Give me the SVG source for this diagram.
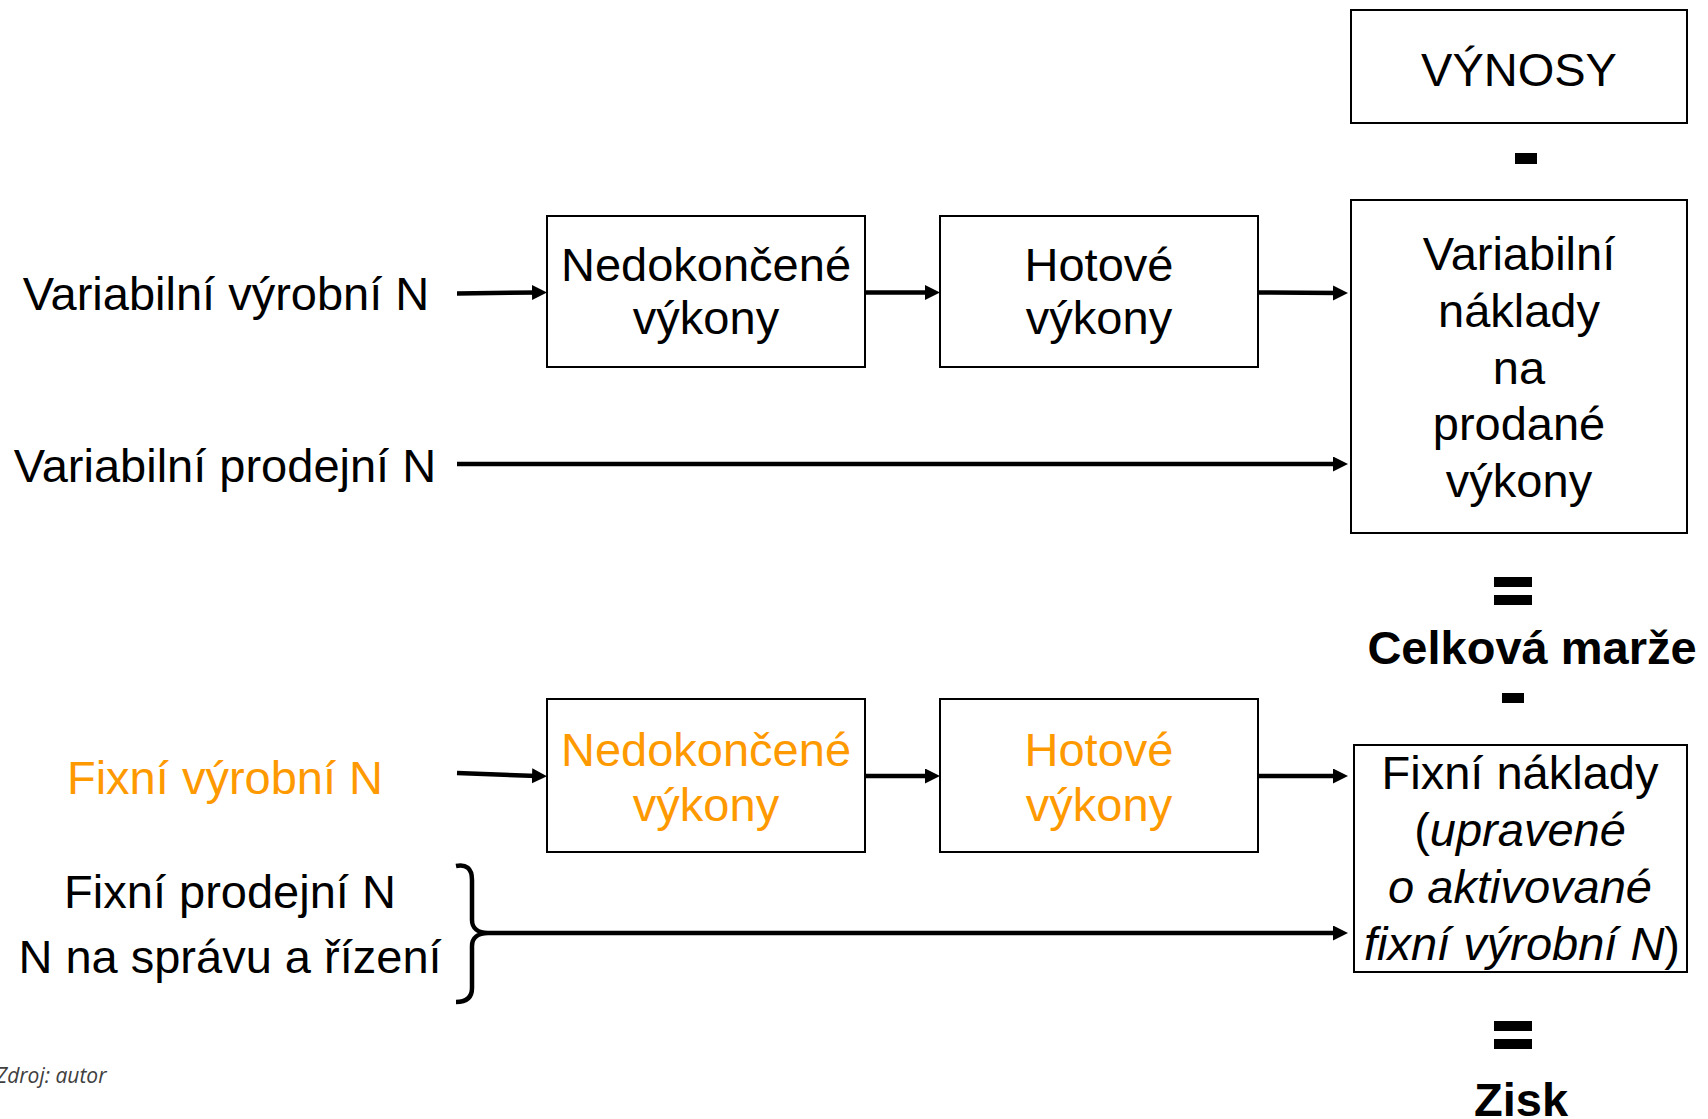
<svg xmlns="http://www.w3.org/2000/svg" width="1708" height="1119" viewBox="0 0 1708 1119">
  <style>
    .box { fill: #fff; stroke: #000; stroke-width: 2; }
    .t { font-family: "Liberation Sans", Arial, sans-serif; font-size: 47px; fill: #000; text-anchor: middle; }
    .b { font-weight: bold; }
    .o { fill: #FF9900; }
    .i { font-style: italic; }
    .conn { stroke: #000; stroke-width: 4.5; fill: none; marker-end: url(#arrow); }
    .op { fill: #000; }
    .src { font-family: "Open Sans", sans-serif; font-style: italic; font-size: 21px; fill: #404040; }
  </style>
  <defs>
    <marker id="arrow" markerUnits="userSpaceOnUse" markerWidth="16" markerHeight="16" refX="5" refY="7.5" orient="auto">
      <path d="M0,0 L15,7.5 L0,15 z" fill="#000"/>
    </marker>
  </defs>

  <!-- connectors -->
  <g id="connectors">
    <line class="conn" x1="457" y1="293.5" x2="537" y2="292.5"/>
    <line class="conn" x1="865" y1="292.5" x2="930" y2="292.5"/>
    <line class="conn" x1="1258" y1="292.5" x2="1338" y2="293"/>
    <line class="conn" x1="457" y1="464" x2="1338" y2="464"/>
    <line class="conn" x1="457" y1="773" x2="537" y2="776"/>
    <line class="conn" x1="865" y1="776" x2="930" y2="776"/>
    <line class="conn" x1="1258" y1="776" x2="1338" y2="776"/>
    <line class="conn" x1="488" y1="933" x2="1338" y2="933"/>
    <path id="brace" d="M456,866 C466,864 472,868 472,880 L472,920 C472,928 478,933 488,933 C478,933 472,938 472,946 L472,988 C472,998 466,1002 456,1002" fill="none" stroke="#000" stroke-width="4.5"/>
  </g>

  <!-- left-hand labels -->
  <g id="lbl-var-vyrobni"><text class="t" x="226" y="310">Variabilní výrobní N</text></g>
  <g id="lbl-var-prodejni"><text class="t" x="225" y="482">Variabilní prodejní N</text></g>
  <g id="lbl-fix-vyrobni"><text class="t o" x="225" y="794">Fixní výrobní N</text></g>
  <g id="lbl-fix-prodejni">
    <text class="t" x="230" y="908">Fixní prodejní N</text>
    <text class="t" x="230" y="973">N na správu a řízení</text>
  </g>

  <!-- variable cost chain -->
  <g id="ned-var">
    <rect class="box" x="547" y="216" width="318" height="151"/>
    <text class="t" x="706" y="281">Nedokončené</text>
    <text class="t" x="706" y="334">výkony</text>
  </g>
  <g id="hot-var">
    <rect class="box" x="940" y="216" width="318" height="151"/>
    <text class="t" x="1099" y="281">Hotové</text>
    <text class="t" x="1099" y="334">výkony</text>
  </g>

  <!-- fixed cost chain -->
  <g id="ned-fix">
    <rect class="box" x="547" y="699" width="318" height="153"/>
    <text class="t o" x="706" y="766">Nedokončené</text>
    <text class="t o" x="706" y="821">výkony</text>
  </g>
  <g id="hot-fix">
    <rect class="box" x="940" y="699" width="318" height="153"/>
    <text class="t o" x="1099" y="766">Hotové</text>
    <text class="t o" x="1099" y="821">výkony</text>
  </g>

  <!-- right-hand result column -->
  <g id="vynosy">
    <rect class="box" x="1351" y="10" width="336" height="113"/>
    <text class="t" x="1519" y="86">VÝNOSY</text>
  </g>
  <rect class="op" x="1515" y="153" width="22" height="11"/>
  <g id="var-naklady">
    <rect class="box" x="1351" y="200" width="336" height="333"/>
    <text class="t" x="1519" y="270">Variabilní</text>
    <text class="t" x="1519" y="327">náklady</text>
    <text class="t" x="1519" y="384">na</text>
    <text class="t" x="1519" y="440">prodané</text>
    <text class="t" x="1519" y="497">výkony</text>
  </g>
  <rect class="op" x="1494" y="577" width="38" height="10"/>
  <rect class="op" x="1494" y="595" width="38" height="10"/>
  <g id="marze"><text class="t b" x="1532" y="664">Celková marže</text></g>
  <rect class="op" x="1502" y="693" width="22" height="10"/>
  <g id="fix-naklady">
    <rect class="box" x="1354" y="745" width="333" height="227"/>
    <text class="t" x="1520" y="789">Fixní náklady</text>
    <text class="t" x="1520" y="846">(<tspan class="i">upravené</tspan></text>
    <text class="t i" x="1520" y="903">o aktivované</text>
    <text class="t" x="1522" y="960"><tspan class="i">fixní výrobní N</tspan>)</text>
  </g>
  <rect class="op" x="1494" y="1021" width="38" height="10"/>
  <rect class="op" x="1494" y="1039" width="38" height="10"/>
  <g id="zisk"><text class="t b" x="1521" y="1116">Zisk</text></g>

  <text class="src" x="-4" y="1083">Zdroj: autor</text>
</svg>
